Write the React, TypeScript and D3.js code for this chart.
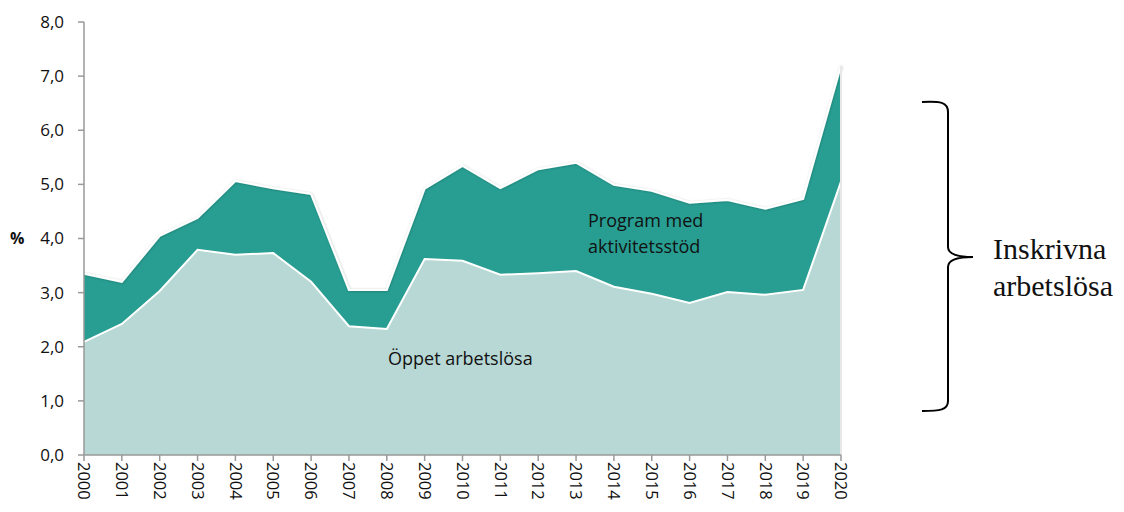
import React from "react";
import * as d3 from "d3";

const years = [2000,2001,2002,2003,2004,2005,2006,2007,2008,2009,2010,2011,2012,2013,2014,2015,2016,2017,2018,2019,2020];
const oppet = [2.09,2.42,3.03,3.79,3.70,3.73,3.20,2.38,2.33,3.62,3.59,3.33,3.36,3.40,3.11,2.98,2.81,3.01,2.96,3.05,5.05];
const totalInskrivna = [3.35,3.20,4.05,4.38,5.06,4.93,4.82,3.05,3.05,4.92,5.34,4.93,5.28,5.40,4.99,4.88,4.66,4.71,4.55,4.73,7.19];
const yTicks = [0,1,2,3,4,5,6,7,8];

const W = 1124, H = 512;
const x0 = 84, x1 = 841, yTop = 22, yBot = 455;

export default function App() {
  const x = d3.scaleLinear().domain([2000, 2020]).range([x0, x1]);
  const y = d3.scaleLinear().domain([0, 8]).range([yBot, yTop]);
  const idx = years.map((_, i) => i);
  const areaTotal = d3.area<number>().x(i => x(years[i])).y0(y(0)).y1(i => y(totalInskrivna[i]))(idx) || "";
  const areaOppet = d3.area<number>().x(i => x(years[i])).y0(y(0)).y1(i => y(oppet[i]))(idx) || "";
  const lineTop = d3.line<number>().x(i => x(years[i])).y(i => y(totalInskrivna[i]))(idx) || "";
  const lineOppet = d3.line<number>().x(i => x(years[i])).y(i => y(oppet[i]))(idx) || "";
  const fmt = (v: number) => v.toFixed(1).replace(".", ",");
  const font = "'Open Sans', sans-serif";
  return (
    <svg width={W} height={H} style={{ position: "absolute", left: 0, top: 0 }}>
      <defs>
        <filter id="sh" x="-5%" y="-5%" width="110%" height="110%">
          <feDropShadow dx="0.5" dy="0.5" stdDeviation="1" floodColor="#000" floodOpacity="0.25" />
        </filter>
      </defs>
      <path d={areaTotal} fill="#289E92" />
      <path d={lineTop} fill="none" stroke="#fff" strokeWidth={2} filter="url(#sh)" />
      <path d={areaOppet} fill="#B7D8D5" />
      <path d={lineOppet} fill="none" stroke="#fff" strokeWidth={2} />
      <line x1={x1} x2={x1} y1={y(totalInskrivna[20])} y2={yBot} stroke="#e8e8e8" strokeWidth={2} />
      {/* y axis */}
      <line x1={x0} x2={x0} y1={yTop} y2={yBot} stroke="#999" strokeWidth={1.5} />
      {yTicks.map(t => (
        <g key={t}>
          <line x1={x0 - 6} x2={x0} y1={y(t)} y2={y(t)} stroke="#999" strokeWidth={1.5} />
          <text x={x0 - 20} y={y(t)} dy="0.35em" textAnchor="end" fontFamily={font} fontSize={17} fill="#111">{fmt(t)}</text>
        </g>
      ))}
      <text x={10} y={y(4)} dy="0.35em" fontFamily={font} fontSize={16} fontWeight="bold" fill="#111">%</text>
      {/* x axis */}
      <line x1={x0} x2={x1} y1={yBot} y2={yBot} stroke="#999" strokeWidth={1.5} />
      {years.map(yr => (
        <g key={yr}>
          <line x1={x(yr)} x2={x(yr)} y1={yBot} y2={yBot + 6} stroke="#999" strokeWidth={1.5} />
          <text transform={`translate(${x(yr)},${yBot + 7}) rotate(90)`} dy="0.35em" textAnchor="start" fontFamily={font} fontSize={16.5} fill="#111">{yr}</text>
        </g>
      ))}
      <text x={588} y={227} fontFamily={font} fontSize={18} fill="#111">Program med</text>
      <text x={588} y={253} fontFamily={font} fontSize={18} fill="#111">aktivitetsstöd</text>
      <text x={388} y={365} fontFamily={font} fontSize={18} fill="#111">Öppet arbetslösa</text>
      {/* brace */}
      <path d="M922,102 C940,101 948,102 948,112 L948,247 C948,254 956,257 973,257 C956,257 948,260 948,267 L948,401 C948,410 940,411 922,411" fill="none" stroke="#000" strokeWidth={2} />
      <text x={993} y={259} fontFamily="'Liberation Serif', serif" fontSize={30} fill="#111">Inskrivna</text>
      <text x={993} y={296} fontFamily="'Liberation Serif', serif" fontSize={30} fill="#111">arbetslösa</text>
    </svg>
  );
}
